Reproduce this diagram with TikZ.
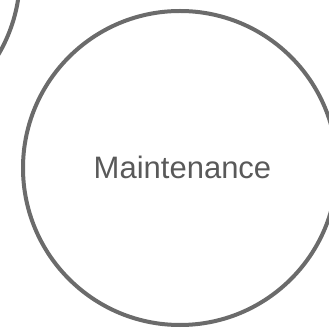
\documentclass[tikz,border=0pt]{standalone}
\usepackage{fontspec}
\setmainfont{Liberation Sans}
\definecolor{ringgray}{HTML}{6B6B6B}
\definecolor{textgray}{HTML}{595959}
\tikzset{ring/.style={draw=ringgray,line width=4pt,circle,minimum size=314pt,inner sep=0pt}}
\begin{document}
\begin{tikzpicture}[x=1pt,y=-1pt]
\useasboundingbox (0,0) rectangle (329,328);
\node[ring] (main) at (180,168) {};
\node[ring] (other) at (-137,-25) {};
\node[text=textgray,font=\fontsize{31}{36}\selectfont,anchor=base,inner sep=0pt] (label) at (182.5,179) {Maintenance};
\end{tikzpicture}
\end{document}
